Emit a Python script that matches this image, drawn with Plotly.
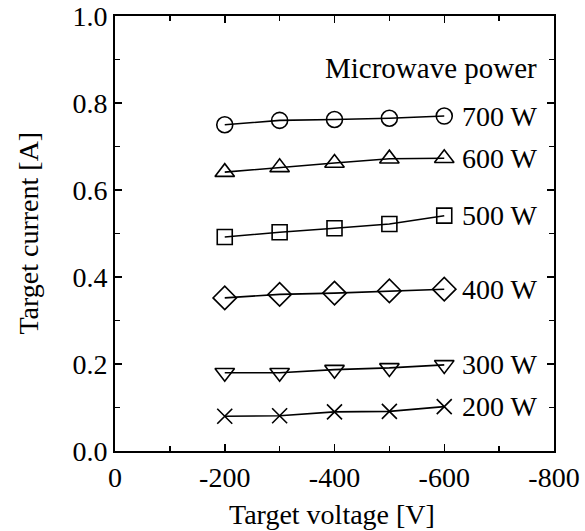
import plotly.graph_objects as go

voltage = [-200, -300, -400, -500, -600]
power_labels = ["700 W", "600 W", "500 W", "400 W", "300 W", "200 W"]
current_700 = [0.75, 0.76, 0.762, 0.765, 0.77]
current_600 = [0.641, 0.652, 0.662, 0.672, 0.673]
current_500 = [0.492, 0.503, 0.512, 0.522, 0.541]
current_400 = [0.352, 0.36, 0.363, 0.368, 0.372]
current_300 = [0.18, 0.18, 0.187, 0.191, 0.198]
current_200 = [0.08, 0.081, 0.09, 0.091, 0.102]
x_ticks = [0, -200, -400, -600, -800]
y_ticks = [0.0, 0.2, 0.4, 0.6, 0.8, 1.0]
x_title = "Target voltage [V]"
y_title = "Target current [A]"
legend_title = "Microwave power"

series = [current_700, current_600, current_500, current_400, current_300, current_200]
symbols = ["circle-open", "triangle-up-open", "square-open", "diamond-open",
           "triangle-down-open", "x-thin-open"]
sizes = [16, 17, 15, 18, 17, 15]

FONT = "Liberation Serif"
FS = 28
fig = go.Figure()
for vals, sym, sz, lab in zip(series, symbols, sizes, power_labels):
    fig.add_trace(go.Scatter(
        x=voltage, y=vals, mode="lines+markers", name=lab,
        line=dict(color="black", width=1.6),
        marker=dict(symbol=sym, size=sz, color="black",
                    line=dict(color="black", width=1.6)),
        showlegend=False))
    fig.add_annotation(x=voltage[-1], y=vals[-1], text=lab, showarrow=False,
                       xanchor="left", yanchor="middle", xshift=16,
                       font=dict(family=FONT, size=FS, color="black"))

fig.add_annotation(x=0.966, y=0.88, xref="paper", yref="y", text=legend_title,
                   showarrow=False, xanchor="right", yanchor="middle",
                   font=dict(family=FONT, size=29, color="black"))

# axis titles
fig.add_annotation(x=0.494, y=-0.147, xref="paper", yref="paper", text=x_title,
                   showarrow=False, xanchor="center", yanchor="middle",
                   font=dict(family=FONT, size=FS, color="black"))
fig.add_annotation(x=-0.198, y=0.5, xref="paper", yref="paper", text=y_title,
                   showarrow=False, xanchor="center", yanchor="middle", textangle=-90,
                   font=dict(family=FONT, size=FS, color="black"))

axis_common = dict(showgrid=False, zeroline=False, showline=True, linecolor="black",
                   linewidth=2, mirror="ticks", ticks="inside", ticklen=7,
                   tickwidth=1.5, tickcolor="black", automargin=False,
                   ticklabeloverflow="allow",
                   tickfont=dict(family=FONT, size=FS, color="black"))

fig.update_xaxes(range=[0, -800], tickvals=x_ticks,
                 ticktext=[str(v) for v in x_ticks],
                 minor=dict(dtick=100, ticks="inside", ticklen=5, tickcolor="black", tickwidth=1.5),
                 **axis_common)
fig.update_yaxes(range=[0, 1.0], tickvals=y_ticks,
                 ticktext=[f"{v:.1f}" for v in y_ticks],
                 minor=dict(dtick=0.1, ticks="inside", ticklen=5, tickcolor="black", tickwidth=1.5),
                 **axis_common)

fig.update_layout(width=585, height=531, margin=dict(l=115, r=31, t=16, b=80),
                  paper_bgcolor="white", plot_bgcolor="white", hovermode=False)
# remove the default 8px page margin so the figure fills the window exactly
fig.write_html("out.html", config={"displayModeBar": False, "staticPlot": True},
               post_script="document.body.style.margin='0px';document.body.style.overflow='hidden';")
